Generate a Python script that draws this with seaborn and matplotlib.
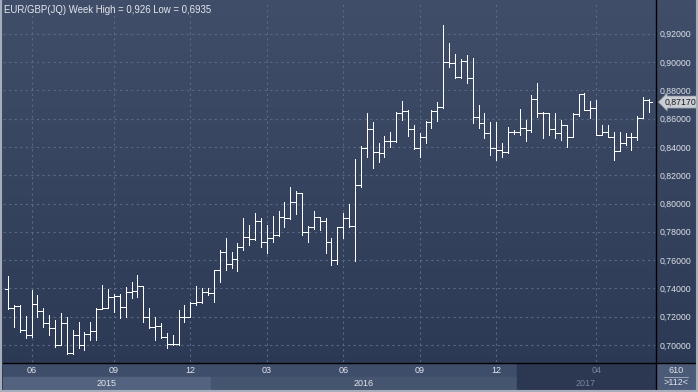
import numpy as np
import pandas as pd
import seaborn as sns
import matplotlib.pyplot as plt
from matplotlib.patches import Rectangle
from matplotlib.colors import LinearSegmentedColormap
from matplotlib.ticker import FuncFormatter

# weekly EUR/GBP bars, first week starting 2015-05-04
first_week = '2015-05-04'

opens = [0.7396, 0.7261, 0.7276, 0.7106, 0.7071, 0.7290, 0.7240, 0.7155, 0.7120, 0.7000,
         0.7155, 0.6943, 0.7071, 0.7000, 0.7078, 0.7099, 0.7254, 0.7261, 0.7339, 0.7346,
         0.7269, 0.7375, 0.7382, 0.7417, 0.7198, 0.7127, 0.7134, 0.7057, 0.7007, 0.7007,
         0.7198, 0.7198, 0.7297, 0.7304, 0.7375, 0.7368, 0.7530, 0.7657, 0.7572, 0.7608,
         0.7693, 0.7763, 0.7749, 0.7876, 0.7728, 0.7756, 0.7777, 0.7905, 0.7898, 0.8011,
         0.8074, 0.7799, 0.7834, 0.7905, 0.7876, 0.7728, 0.7601, 0.7834, 0.7898, 0.7841,
         0.8131, 0.8392, 0.8527, 0.8364, 0.8357, 0.8442, 0.8442, 0.8640, 0.8654, 0.8527,
         0.8392, 0.8470, 0.8576, 0.8654, 0.8682, 0.9000, 0.8993, 0.8894, 0.9007, 0.8887,
         0.8611, 0.8569, 0.8498, 0.8392, 0.8378, 0.8364, 0.8505, 0.8505, 0.8534, 0.8519,
         0.8739, 0.8640, 0.8640, 0.8527, 0.8498, 0.8555, 0.8470, 0.8632, 0.8774, 0.8661,
         0.8675, 0.8484, 0.8505, 0.8470, 0.8371, 0.8428, 0.8470, 0.8470, 0.8604, 0.8731]

highs = [0.7488, 0.7283, 0.7283, 0.7205, 0.7389, 0.7353, 0.7261, 0.7212, 0.7177, 0.7226,
         0.7198, 0.7106, 0.7163, 0.7092, 0.7163, 0.7261, 0.7424, 0.7396, 0.7360, 0.7360,
         0.7410, 0.7445, 0.7495, 0.7417, 0.7261, 0.7198, 0.7155, 0.7085, 0.7071, 0.7247,
         0.7283, 0.7304, 0.7417, 0.7403, 0.7403, 0.7530, 0.7671, 0.7756, 0.7657, 0.7721,
         0.7898, 0.7848, 0.7933, 0.7898, 0.7848, 0.7912, 0.7947, 0.8011, 0.8117, 0.8088,
         0.8074, 0.7841, 0.7947, 0.7905, 0.7898, 0.7756, 0.7834, 0.7933, 0.7996, 0.8314,
         0.8406, 0.8640, 0.8576, 0.8428, 0.8477, 0.8505, 0.8647, 0.8724, 0.8661, 0.8555,
         0.8498, 0.8583, 0.8661, 0.8717, 0.9261, 0.9134, 0.9057, 0.9021, 0.9049, 0.9028,
         0.8696, 0.8640, 0.8576, 0.8576, 0.8428, 0.8541, 0.8519, 0.8668, 0.8590, 0.8767,
         0.8852, 0.8647, 0.8640, 0.8640, 0.8590, 0.8555, 0.8640, 0.8774, 0.8781, 0.8724,
         0.8731, 0.8555, 0.8555, 0.8505, 0.8505, 0.8498, 0.8498, 0.8618, 0.8753, 0.8739]

lows = [0.7254, 0.7127, 0.7092, 0.7049, 0.7057, 0.7198, 0.7127, 0.7071, 0.6986, 0.7000,
        0.6936, 0.6936, 0.6979, 0.6965, 0.7035, 0.7035, 0.7254, 0.7261, 0.7233, 0.7191,
        0.7198, 0.7332, 0.7339, 0.7163, 0.7120, 0.7035, 0.7049, 0.6979, 0.7000, 0.7000,
        0.7163, 0.7198, 0.7283, 0.7297, 0.7353, 0.7304, 0.7445, 0.7530, 0.7544, 0.7523,
        0.7671, 0.7707, 0.7742, 0.7693, 0.7650, 0.7728, 0.7770, 0.7834, 0.7890, 0.7926,
        0.7777, 0.7728, 0.7820, 0.7813, 0.7650, 0.7565, 0.7572, 0.7756, 0.7834, 0.7594,
        0.8117, 0.8329, 0.8251, 0.8293, 0.8329, 0.8399, 0.8435, 0.8590, 0.8477, 0.8385,
        0.8329, 0.8428, 0.8534, 0.8583, 0.8675, 0.8965, 0.8887, 0.8887, 0.8852, 0.8569,
        0.8534, 0.8463, 0.8343, 0.8307, 0.8329, 0.8357, 0.8491, 0.8484, 0.8442, 0.8505,
        0.8611, 0.8463, 0.8484, 0.8463, 0.8449, 0.8399, 0.8470, 0.8618, 0.8661, 0.8604,
        0.8484, 0.8484, 0.8470, 0.8307, 0.8371, 0.8413, 0.8378, 0.8449, 0.8611, 0.8647]

closes = [0.7261, 0.7276, 0.7106, 0.7071, 0.7290, 0.7240, 0.7155, 0.7120, 0.7000, 0.7155,
          0.6943, 0.7071, 0.7000, 0.7078, 0.7099, 0.7254, 0.7261, 0.7339, 0.7346, 0.7269,
          0.7375, 0.7382, 0.7417, 0.7198, 0.7127, 0.7134, 0.7057, 0.7007, 0.7007, 0.7198,
          0.7198, 0.7297, 0.7304, 0.7375, 0.7368, 0.7530, 0.7657, 0.7572, 0.7608, 0.7693,
          0.7763, 0.7749, 0.7876, 0.7728, 0.7756, 0.7777, 0.7905, 0.7898, 0.8011, 0.8074,
          0.7799, 0.7834, 0.7905, 0.7876, 0.7728, 0.7601, 0.7834, 0.7898, 0.7841, 0.8131,
          0.8392, 0.8527, 0.8364, 0.8357, 0.8442, 0.8442, 0.8640, 0.8654, 0.8527, 0.8392,
          0.8470, 0.8576, 0.8654, 0.8682, 0.9000, 0.8993, 0.8894, 0.9007, 0.8887, 0.8611,
          0.8569, 0.8498, 0.8392, 0.8378, 0.8364, 0.8505, 0.8505, 0.8534, 0.8519, 0.8739,
          0.8640, 0.8640, 0.8527, 0.8498, 0.8555, 0.8470, 0.8632, 0.8774, 0.8661, 0.8675,
          0.8484, 0.8505, 0.8470, 0.8371, 0.8428, 0.8470, 0.8470, 0.8604, 0.8731, 0.8717]

month_ticks = [(2015, 6), (2015, 9), (2015, 12), (2016, 3), (2016, 6), (2016, 9), (2016, 12), (2017, 4)]
years = [2015, 2016, 2017]
yticks = [0.70, 0.72, 0.74, 0.76, 0.78, 0.80, 0.82, 0.84, 0.86, 0.88, 0.90, 0.92]
title = 'EUR/GBP(JQ) Week High = 0,926 Low = 0,6935'
last_label = '0,87170'
corner_top, corner_bottom = '610', '>112<'

sns.set_theme(style='dark')
plt.rcParams['font.family'] = ['Liberation Sans', 'DejaVu Sans']

n = len(closes)
idx = np.arange(n)
weeks = pd.date_range(first_week, periods=n, freq='7D')
tick = 0.45

# long table of line segments: high-low stick, open tick (left), close tick (right)
hl = pd.DataFrame({'x': np.repeat(idx, 2),
                   'price': np.column_stack([lows, highs]).ravel(),
                   'seg': np.repeat(idx, 2)})
op = pd.DataFrame({'x': np.column_stack([idx - tick, idx]).ravel(),
                   'price': np.repeat(opens, 2),
                   'seg': np.repeat(idx + n, 2)})
cl = pd.DataFrame({'x': np.column_stack([idx, idx + tick]).ravel(),
                   'price': np.repeat(closes, 2),
                   'seg': np.repeat(idx + 2 * n, 2)})
segs = pd.concat([hl, op, cl], ignore_index=True)

W, H = 698, 392


def box(x0, y0, x1, y1):
    return [x0 / W, 1 - y1 / H, (x1 - x0) / W, (y1 - y0) / H]


fig = plt.figure(figsize=(W / 100, H / 100), dpi=100)

# background gradient
bg = fig.add_axes([0, 0, 1, 1], zorder=0)
grad = LinearSegmentedColormap.from_list('bg', ['#2b3853', '#404e6a'])
bg.imshow(np.linspace(0, 1, 256).reshape(-1, 1), extent=[0, 1, 0, 1], origin='lower',
          aspect='auto', cmap=grad)
bg.set_xlim(0, 1)
bg.set_ylim(0, 1)
bg.axis('off')

ax = fig.add_axes(box(3, 2, 655, 362), zorder=2)
ax.set_facecolor('none')
sns.lineplot(data=segs, x='x', y='price', units='seg', estimator=None, sort=False,
             color='white', lw=0.6, antialiased=False, legend=False, ax=ax)
ax.set_xlim(-0.85, n)
ax.set_ylim(0.688, 0.9424)
ax.set_xlabel('')
ax.set_ylabel('')

tick_idx = [int(np.argmax((weeks.year == y) & (weeks.month == m))) for y, m in month_ticks]
ax.set_xticks(tick_idx)
ax.set_yticks(yticks)
ax.yaxis.tick_right()
ax.yaxis.set_major_formatter(FuncFormatter(lambda v, _: f'{v:.5f}'.replace('.', ',')))
ax.tick_params(axis='y', length=0, pad=3, labelsize=6.3, labelcolor='#dde1e8')
ax.tick_params(axis='x', length=0, labelbottom=False)
ax.grid(True, color='#5a6986', ls=(0, (2, 3)), lw=0.8)
for s in ax.spines.values():
    s.set_visible(False)

ax.annotate(last_label, xy=(1.0, closes[-1]), xycoords=('axes fraction', 'data'),
            xytext=(7, 0), textcoords='offset points', ha='left', va='center',
            fontsize=6.3, color='#1c1c1c', annotation_clip=False,
            bbox=dict(boxstyle='larrow,pad=0.18', fc='#c9cdd4', ec='#7d8596', lw=0.5))

fig.text(4 / W, 1 - 10 / H, title, fontsize=6.9, color='#e4e7ed', va='center', ha='left', zorder=5)

# time strip under the plot
st = fig.add_axes(box(3, 363, 655, 390), zorder=2)
st.set_xlim(ax.get_xlim())
st.set_ylim(0, 2)
st.axis('off')
st.add_patch(Rectangle((-1, 0), n + 2, 2, color='#3e4d6a', zorder=0))
band_cols = {2015: '#53627e', 2016: '#45546f', 2017: '#45546f'}
for y in years:
    sel = idx[weeks.year == y]
    lo, hi = sel[0] - 0.5, (sel[-1] + 0.5 if y != years[-1] else n)
    if y == years[0]:
        lo = -0.85
    st.add_patch(Rectangle((lo, 0.08), hi - lo, 0.92, color=band_cols[y], zorder=1))
    if y == years[-1]:
        st.add_patch(Rectangle((lo, 0), hi - lo, 2, color='#2c3852', zorder=2))
    col = '#7a859b' if y == years[-1] else '#e2e5eb'
    st.text((lo + hi) / 2, 0.5, str(y), ha='center', va='center', fontsize=6.5, color=col, zorder=3)
for (y, m), t in zip(month_ticks, tick_idx):
    col = '#7a859b' if y == years[-1] else '#e2e5eb'
    st.text(t, 1.45, f'{m:02d}', ha='center', va='center', fontsize=6.5, color=col, zorder=3)

# corner box
cb = fig.add_axes(box(656, 363, 696, 390), zorder=2)
cb.set_xlim(0, 1)
cb.set_ylim(0, 1)
cb.set_facecolor('#4a5a77')
cb.set_xticks([])
cb.set_yticks([])
for s in cb.spines.values():
    s.set_visible(False)
cb.text(0.5, 0.74, corner_top, ha='center', va='center', fontsize=6.5, color='#e2e5eb')
cb.text(0.5, 0.26, corner_bottom, ha='center', va='center', fontsize=6.5, color='#e2e5eb')
cb.plot([0.2, 0.8], [0.5, 0.5], color='#aab2c0', lw=0.6)

# frame lines
fig.add_artist(plt.Line2D([655.5 / W, 655.5 / W], [0, 1], color='black', lw=1, zorder=6))
fig.add_artist(plt.Line2D([3 / W, 1], [1 - 362.5 / H, 1 - 362.5 / H], color='black', lw=1, zorder=6))
fig.add_artist(plt.Line2D([1 / W, 1 / W], [0, 1], color='#a7aebb', lw=1.5, zorder=6))
fig.add_artist(plt.Line2D([697 / W, 697 / W], [0, 1], color='#a7aebb', lw=1.5, zorder=6))
fig.add_artist(plt.Line2D([0, 1], [1 / H, 1 / H], color='#a7aebb', lw=1.5, zorder=6))

fig.savefig('out.png', dpi=100)
